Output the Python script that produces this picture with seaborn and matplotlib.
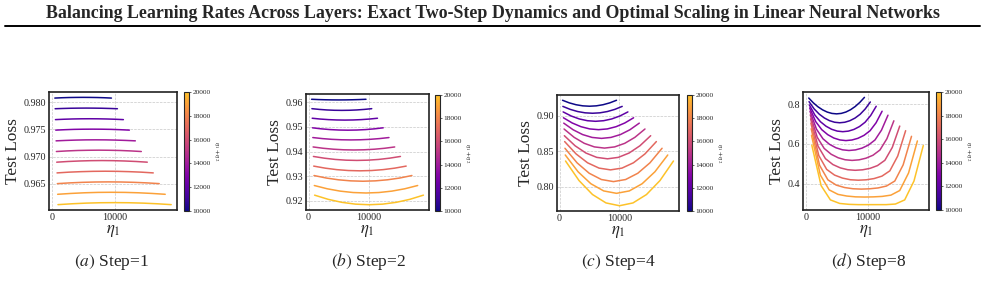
import numpy as np
import pandas as pd
import matplotlib
matplotlib.use('Agg')
import matplotlib.pyplot as plt
import seaborn as sns
from matplotlib.colors import ListedColormap, Normalize
from matplotlib.ticker import MultipleLocator, FormatStrFormatter

# eta1 + eta2 for each curve, and where along that sum eta1 was sampled
TOTALS = [10000, 11000, 12000, 13000, 14000, 15000, 16000, 17000, 18000, 19000, 20000]
FRAC9 = [0.05, 0.1625, 0.275, 0.3875, 0.5, 0.6125, 0.725, 0.8375, 0.95]
FRAC13 = [0.05, 0.125, 0.2, 0.275, 0.35, 0.425, 0.5, 0.575, 0.65, 0.725, 0.8, 0.875, 0.95]

# test loss, one list per total
LOSS_STEP1 = [
    [.98080, .98086, .98090, .98092, .98093, .98092, .98090, .98086, .98080],
    [.97883, .97888, .97892, .97894, .97895, .97894, .97892, .97888, .97883],
    [.97682, .97689, .97694, .97697, .97698, .97697, .97694, .97689, .97682],
    [.97488, .97496, .97502, .97505, .97506, .97505, .97502, .97496, .97488],
    [.97290, .97298, .97304, .97308, .97309, .97308, .97304, .97298, .97290],
    [.97093, .97104, .97112, .97116, .97118, .97116, .97112, .97104, .97093],
    [.96896, .96909, .96918, .96924, .96926, .96924, .96918, .96909, .96896],
    [.96698, .96712, .96721, .96727, .96729, .96727, .96721, .96712, .96698],
    [.96500, .96514, .96524, .96530, .96532, .96530, .96524, .96514, .96500],
    [.96303, .96319, .96331, .96338, .96340, .96338, .96331, .96319, .96303],
    [.96112, .96128, .96140, .96147, .96149, .96147, .96140, .96128, .96112],
]
LOSS_STEP2 = [
    [.96123, .96111, .96103, .96098, .96096, .96098, .96103, .96111, .96123],
    [.95741, .95711, .95689, .95676, .95672, .95676, .95689, .95711, .95741],
    [.95352, .95319, .95296, .95282, .95277, .95282, .95296, .95319, .95352],
    [.94963, .94921, .94891, .94873, .94867, .94873, .94891, .94921, .94963],
    [.94567, .94525, .94495, .94477, .94471, .94477, .94495, .94525, .94567],
    [.94185, .94131, .94093, .94070, .94062, .94070, .94093, .94131, .94185],
    [.93799, .93729, .93678, .93648, .93638, .93648, .93678, .93729, .93799],
    [.93407, .93323, .93263, .93227, .93215, .93227, .93263, .93323, .93407],
    [.93024, .92922, .92850, .92807, .92792, .92807, .92850, .92922, .93024],
    [.92618, .92485, .92390, .92333, .92314, .92333, .92390, .92485, .92618],
    [.92226, .92056, .91934, .91861, .91837, .91861, .91934, .92056, .92226],
]
LOSS_STEP4 = [
    [.92148, .91784, .91523, .91367, .91315, .91367, .91523, .91784, .92148],
    [.91291, .90870, .90569, .90389, .90329, .90389, .90569, .90870, .91291],
    [.90516, .89941, .89530, .89284, .89202, .89284, .89530, .89941, .90516],
    [.89695, .88966, .88445, .88132, .88028, .88132, .88445, .88966, .89695],
    [.88944, .88009, .87341, .86941, .86807, .86941, .87341, .88009, .88944],
    [.88122, .86951, .86115, .85613, .85446, .85613, .86115, .86951, .88122],
    [.87183, .85766, .84754, .84146, .83944, .84146, .84754, .85766, .87183],
    [.86361, .84625, .83386, .82642, .82394, .82642, .83386, .84625, .86361],
    [.85422, .83378, .81919, .81043, .80751, .81043, .81919, .83378, .85422],
    [.84483, .82131, .80452, .79444, .79108, .79444, .80452, .82131, .84483],
    [.83638, .80896, .78937, .77762, .77370, .77762, .78937, .80896, .83638],
]
LOSS_STEP8 = [
    [.8317, .8072, .7872, .7717, .7606, .7539, .7517, .7540, .7609, .7725, .7887, .8095, .8350],
    [.8133, .7767, .7502, .7309, .7174, .7094, .7067, .7093, .7172, .7304, .7495, .7765, .8117],
    [.7967, .7453, .7118, .6892, .6738, .6647, .6617, .6645, .6731, .6876, .7093, .7432, .7900],
    [.7817, .7127, .6720, .6466, .6297, .6200, .6167, .6197, .6283, .6431, .6664, .7066, .7650],
    [.7650, .6746, .6258, .5980, .5804, .5701, .5667, .5697, .5786, .5942, .6198, .6694, .7450],
    [.7467, .6333, .5770, .5477, .5300, .5199, .5167, .5195, .5279, .5427, .5691, .6261, .7167],
    [.7267, .5889, .5255, .4958, .4789, .4696, .4667, .4692, .4765, .4904, .5172, .5824, .6900],
    [.7050, .5412, .4712, .4424, .4274, .4190, .4167, .4187, .4249, .4372, .4639, .5387, .6667],
    [.6767, .4922, .4184, .3918, .3796, .3735, .3717, .3733, .3776, .3872, .4125, .4941, .6383],
    [.6433, .4429, .3678, .3451, .3367, .3326, .3317, .3325, .3348, .3413, .3646, .4532, .6150],
    [.5933, .3893, .3173, .2993, .2948, .2933, .2933, .2933, .2933, .2963, .3172, .4127, .5917],
]

STEPS = [1, 2, 4, 8]
CAPTION_TAGS = ['(a)', '(b)', '(c)', '(d)']
YTICK_STEP = [0.005, 0.01, 0.05, 0.2]
YTICK_FMT = ['%.3f', '%.2f', '%.2f', '%.1f']
XTICKS = [0, 10000]
CBAR_TICKS = [10000, 12000, 14000, 16000, 18000, 20000]

sns.set_theme(style='white')
plt.rcParams['font.family'] = ['Liberation Serif', 'DejaVu Serif']
plt.rcParams['mathtext.fontset'] = 'stix'

W, H = 985, 292
fig = plt.figure(figsize=(W / 100, H / 100), dpi=100)

def rect(x0, y0, x1, y1):
    return [x0 / W, 1 - y1 / H, (x1 - x0) / W, (y1 - y0) / H]

ax_boxes = [(49, 92, 177, 210), (306, 94, 429, 210), (557, 95, 679, 211), (803, 92, 929, 210)]
cb_boxes = [(184, 92, 189, 211), (435, 95, 440, 211), (687, 95, 692, 211), (936, 92, 941, 210)]
caption_x = [112, 369, 618, 869]

cmap = ListedColormap(plt.cm.plasma(np.linspace(0, 0.87, 256)))
norm = Normalize(10000, 20000)

panels = [(LOSS_STEP1, FRAC9), (LOSS_STEP2, FRAC9), (LOSS_STEP4, FRAC9), (LOSS_STEP8, FRAC13)]

for i, (losses, fracs) in enumerate(panels):
    rows = []
    for total, curve in zip(TOTALS, losses):
        for f, y in zip(fracs, curve):
            rows.append({'eta1': f * total, 'loss': y, 'total': total})
    df = pd.DataFrame(rows)

    ax = fig.add_axes(rect(*ax_boxes[i]))
    sns.lineplot(data=df, x='eta1', y='loss', hue='total', palette=cmap,
                 hue_norm=norm, legend=False, linewidth=1.1, ax=ax)
    ax.set_xticks(XTICKS)
    ax.set_xticklabels(['0', '10000'])
    ax.yaxis.set_major_locator(MultipleLocator(YTICK_STEP[i]))
    ax.yaxis.set_major_formatter(FormatStrFormatter(YTICK_FMT[i]))
    ax.tick_params(axis='both', length=0, pad=2, labelsize=7.3)
    ax.grid(True, linestyle='--', linewidth=0.5, color='#c8c8c8')
    for s in ax.spines.values():
        s.set_color('#222222')
        s.set_linewidth(1.2)
    ax.set_xlabel(r'$\eta_1$', fontsize=12, labelpad=1)
    ax.set_ylabel('Test Loss', fontsize=12.5, labelpad=2)

    cax = fig.add_axes(rect(*cb_boxes[i]))
    sm = plt.cm.ScalarMappable(cmap=cmap, norm=norm)
    cb = fig.colorbar(sm, cax=cax, ticks=CBAR_TICKS)
    cb.ax.tick_params(labelsize=5.3, length=1.5, width=0.5, pad=1)
    cb.outline.set_linewidth(0.8)
    cb.set_label(r'$\eta_1+\eta_2$', fontsize=5, rotation=270, labelpad=7)

    fig.text(caption_x[i] / W, 1 - 262 / H,
             r'$\mathit{' + CAPTION_TAGS[i] + r'}$ Step=' + str(STEPS[i]),
             ha='center', va='center', fontsize=12.5)

fig.text(0.5, 1 - 14 / H,
         'Balancing Learning Rates Across Layers: Exact Two-Step Dynamics and Optimal Scaling in Linear Neural Networks',
         ha='center', va='center', fontsize=12.9, fontweight='bold')
fig.add_artist(plt.Line2D([5 / W, 980 / W], [1 - 25.5 / H, 1 - 25.5 / H], color='black', linewidth=1.4))

fig.savefig('out.png', dpi=100)
